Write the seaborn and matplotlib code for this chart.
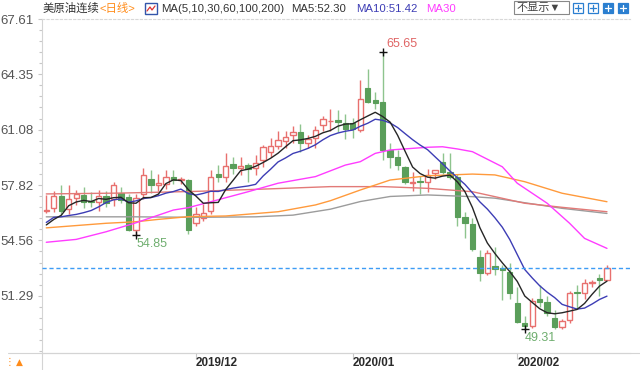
import numpy as np
import pandas as pd
import matplotlib
matplotlib.use("Agg")
import matplotlib.pyplot as plt
from matplotlib.patches import Rectangle
from matplotlib.lines import Line2D
import seaborn as sns

# ---------------- data ----------------
opens = [56.30, 56.45, 57.15, 56.40, 57.05, 57.25, 56.90, 56.80, 57.20, 57.00,
         57.35, 57.10, 55.20, 57.30, 58.20, 57.85, 57.90, 58.30, 58.10, 58.10,
         55.60, 55.90, 56.30, 58.50, 58.30, 59.05, 58.85, 59.00, 58.85, 59.30,
         59.80, 60.15, 60.40, 60.75, 60.97, 60.28, 60.58, 61.36, 61.58, 61.65,
         61.50, 61.50, 61.07, 63.56, 62.84, 62.74, 59.89, 59.49, 58.90, 57.93,
         58.05, 58.02, 58.52, 59.20, 58.61, 58.32, 55.96, 55.53, 53.56, 52.62,
         53.05, 52.95, 52.72, 50.85, 49.71, 49.50, 51.09, 50.95, 49.97, 49.47,
         49.87, 51.54, 51.45, 52.03, 52.33, 52.23]
highs = [57.25, 57.45, 57.80, 57.80, 57.55, 57.70, 57.40, 57.55, 57.50, 58.00,
         57.70, 57.30, 57.30, 58.80, 58.70, 58.50, 58.70, 58.70, 58.30, 58.20,
         56.50, 56.70, 58.70, 59.00, 59.70, 59.50, 59.50, 59.15, 59.60, 60.20,
         60.60, 61.00, 61.00, 61.30, 61.40, 60.75, 61.30, 61.90, 62.30, 62.25,
         62.00, 61.80, 64.00, 64.65, 63.30, 65.65, 60.30, 59.90, 58.95, 58.60,
         58.35, 58.75, 58.71, 59.70, 59.70, 58.50, 56.25, 55.90, 54.00, 54.00,
         54.20, 53.10, 53.20, 51.80, 50.10, 51.15, 51.93, 51.30, 50.45, 49.95,
         51.60, 51.95, 52.30, 52.25, 52.60, 53.11]
lows = [56.20, 56.25, 56.05, 56.10, 56.65, 56.45, 56.50, 56.30, 56.50, 56.60,
        56.75, 55.10, 54.85, 57.00, 57.35, 57.50, 57.60, 57.90, 57.90, 54.95,
        55.40, 55.70, 56.10, 58.00, 58.00, 58.50, 58.40, 58.00, 58.40, 58.90,
        59.50, 59.95, 60.00, 60.30, 59.80, 60.00, 60.00, 61.00, 61.00, 60.97,
        60.55, 60.60, 60.97, 62.65, 62.30, 59.30, 58.80, 58.70, 57.90, 57.50,
        57.30, 57.40, 58.20, 58.45, 58.20, 55.40, 54.70, 53.95, 52.15, 52.55,
        52.50, 51.05, 51.10, 49.70, 49.31, 49.40, 50.65, 50.10, 49.35, 49.35,
        49.70, 50.50, 51.10, 51.80, 51.30, 52.20]
closes = [56.38, 57.15, 56.30, 57.00, 57.30, 56.85, 56.80, 57.20, 56.75, 57.80,
          56.95, 55.20, 57.05, 58.40, 57.85, 57.95, 58.30, 58.15, 58.20, 55.15,
          56.10, 56.15, 58.30, 58.30, 58.95, 58.85, 58.95, 58.75, 59.15, 60.05,
          60.10, 60.45, 60.65, 60.95, 60.28, 60.52, 61.07, 61.70, 61.62, 61.55,
          61.15, 61.15, 62.88, 62.74, 62.64, 59.89, 59.49, 59.00, 58.02, 58.02,
          57.98, 58.42, 58.71, 58.61, 58.32, 55.96, 55.57, 54.04, 52.66, 53.80,
          52.90, 52.80, 51.45, 49.77, 49.50, 51.00, 50.95, 50.26, 49.47, 49.80,
          51.48, 51.45, 52.03, 52.13, 52.23, 52.95]
prior_closes = [54.16, 55.97, 56.23, 56.66, 55.81, 55.54, 55.06, 54.18, 56.20]

ma30_idx = [0, 4, 8, 12, 17, 19, 22, 27, 31, 36, 38, 40, 42, 44, 46, 51, 53, 55,
            57, 61, 63, 67, 70, 72, 75]
ma30_val = [54.45, 54.62, 55.07, 55.60, 56.35, 56.49, 56.84, 57.43, 57.93, 58.32,
            58.66, 59.00, 59.20, 59.69, 59.89, 60.05, 60.08, 59.95, 59.79, 58.90,
            57.93, 56.75, 55.57, 54.68, 54.09]
ma60_idx = [0, 8, 12, 15, 19, 24, 31, 36, 38, 42, 46, 51, 57, 60, 64, 69, 75]
ma60_val = [55.30, 55.57, 55.66, 55.80, 55.96, 56.00, 56.25, 56.65, 56.90, 57.53,
            58.12, 58.37, 58.47, 58.42, 58.02, 57.34, 56.84]
ma100_idx = [0, 10, 20, 30, 38, 45, 51, 57, 60, 64, 69, 75]
ma100_val = [57.30, 57.35, 57.45, 57.60, 57.73, 57.73, 57.63, 57.43, 57.14, 56.75,
             56.51, 56.25]
ma200_idx = [0, 12, 20, 28, 33, 38, 42, 46, 51, 57, 60, 64, 69, 75]
ma200_val = [55.95, 55.95, 55.92, 55.95, 56.05, 56.40, 56.85, 57.15, 57.24, 57.14,
             57.05, 56.78, 56.45, 56.15]

ytick_vals = [67.61, 64.35, 61.08, 57.82, 54.56, 51.29]
month_idx = [20, 41, 63]
month_labels = ["2019/12", "2020/01", "2020/02"]
last_price = 52.95
high_mark = (45, 65.65)
low_marks = [(12, 54.85), (64, 49.31)]

# ---------------- style ----------------
sns.set_theme(style="white")
plt.rcParams['font.family'] = ['Liberation Sans', 'Noto Sans CJK SC', 'DejaVu Sans']

RED = "#e8706e"
GREEN = "#5a9e5a"
GREEN_W = "#8ec48e"

W, H = 640, 370
fig = plt.figure(figsize=(6.4, 3.7), dpi=100)
fig.patch.set_facecolor("white")
ax = fig.add_axes([42 / W, (H - 353) / H, (630 - 42) / W, (353 - 19) / H])

o = np.array(opens); h = np.array(highs); l = np.array(lows); c = np.array(closes)
x = np.arange(len(c))
up = c >= o
bb = np.minimum(o, c)
bh = np.maximum(np.abs(c - o), 0.03)

ax.vlines(x[up], l[up], h[up], color=RED, lw=1, zorder=2)
ax.vlines(x[~up], l[~up], h[~up], color=GREEN_W, lw=1, zorder=2)
ax.bar(x[up], bh[up], bottom=bb[up], width=0.72, facecolor="white",
       edgecolor=RED, linewidth=1, zorder=3)
ax.bar(x[~up], bh[~up], bottom=bb[~up], width=0.72, facecolor=GREEN,
       edgecolor=GREEN, linewidth=0.8, zorder=3)

full = pd.Series(prior_closes + closes)
k = len(prior_closes)
ma5 = full.rolling(5).mean().iloc[k:].values
ma10 = full.rolling(10).mean().iloc[k:].values

lines = [
    (ma200_idx, ma200_val, "#9c9c9c"),
    (ma100_idx, ma100_val, "#e27a78"),
    (ma60_idx, ma60_val, "#ff9a3c"),
    (ma30_idx, ma30_val, "#ff3cff"),
    (list(x), list(ma10), "#3d3db5"),
    (list(x), list(ma5), "#262626"),
]
for xi, yi, col in lines:
    sns.lineplot(x=xi, y=yi, ax=ax, color=col, lw=1.0, legend=False,
                 zorder=4, estimator=None)

ax.axhline(last_price, color="#3d9cf5", lw=1, ls=(0, (3, 2)), zorder=5)

# high / low marks
ax.plot([high_mark[0]], [high_mark[1]], marker="+", color="#111", ms=6, mew=1, zorder=6)
ax.annotate(f"{high_mark[1]:.2f}", high_mark, xytext=(19, 8),
            textcoords="offset pixels", ha="center", va="center",
            color="#e06666", fontsize=9)
for (li, lv) in low_marks:
    ax.plot([li], [lv], marker="+", color="#111", ms=6, mew=1, zorder=6)
    ax.annotate(f"{lv:.2f}", (li, lv), xytext=(16, -9),
                textcoords="offset pixels", ha="center", va="center",
                color="#6fae6f", fontsize=9)

# axes ranges
ax.set_xlim(-0.575, 78.08)
ax.set_ylim(47.924, 67.61)

ax.set_yticks(ytick_vals)
ax.set_yticklabels([f"{v:.2f}" for v in ytick_vals])
step = (ytick_vals[0] - ytick_vals[1]) / 5
minors = [ytick_vals[-1] - step * j for j in range(1, 6)] + \
         [v - step * j for v in ytick_vals[:-1] for j in range(1, 5)]
ax.set_yticks([m for m in minors if m > 47.924], minor=True)
ax.tick_params(axis="y", which="major", length=3, width=0.8, color="#c8c8c8",
               labelsize=9.5, labelcolor="#555555", pad=3, left=True)
ax.tick_params(axis="y", which="minor", length=2, width=0.8, color="#c8c8c8", left=True)

ax.set_xticks(month_idx)
ax.set_xticklabels(month_labels)
ax.tick_params(axis="x", which="major", length=4, width=0.8, color="#c8c8c8",
               labelsize=8.4, labelcolor="#2a2a2a", pad=-1, bottom=True)
for lab in ax.get_xticklabels():
    lab.set_fontweight("bold")
    lab.set_horizontalalignment("left")

ax.spines["right"].set_visible(False)
ax.spines["left"].set_color("#d4d4d4")
ax.spines["bottom"].set_color("#d4d4d4")
ax.spines["top"].set_color("#d8d8d8")
ax.spines["top"].set_linestyle((0, (2, 2)))
for s in ["left", "bottom", "top"]:
    ax.spines[s].set_linewidth(0.8)
ax.grid(False)

# figure-level decorations (pixel helpers)
def fx(px):
    return px / W

def fy(py):
    return 1 - py / H

fig.add_artist(Line2D([fx(8), fx(640)], [fy(353), fy(353)], color="#d4d4d4", lw=0.8))
fig.add_artist(Line2D([fx(42), fx(42)], [fy(353), fy(370)], color="#d4d4d4", lw=0.8))

# header
hy = fy(8.5)
fig.text(fx(43), hy, "美原油连续", fontsize=8.2, color="#333333", va="center")
fig.text(fx(100), hy, "<日线>", fontsize=8.2, color="#ff8c1a", va="center")
fig.add_artist(Rectangle((fx(145), fy(14)), 12 / W, 11 / H, transform=fig.transFigure,
                         facecolor="white", edgecolor="#3355aa", lw=1))
fig.add_artist(Line2D([fx(147), fx(150), fx(152), fx(155)],
                      [fy(11), fy(7), fy(10), fy(6)], color="#dd3333", lw=0.9))
fig.text(fx(161), hy, "MA(5,10,30,60,100,200)", fontsize=8.2, color="#333333", va="center")
fig.text(fx(291), hy, "MA5:52.30", fontsize=8.2, color="#333333", va="center")
fig.text(fx(356), hy, "MA10:51.42", fontsize=8.2, color="#3d3db5", va="center")
fig.text(fx(426), hy, "MA30", fontsize=8.2, color="#ff3cff", va="center")

fig.add_artist(Rectangle((fx(514), fy(14)), 55 / W, 13 / H, transform=fig.transFigure,
                         facecolor="white", edgecolor="#888888", lw=0.8))
fig.text(fx(517), fy(7.5), "不显示▼", fontsize=8, color="#444444", va="center")
for k_i, x0 in enumerate([573, 588, 603, 618]):
    filled = k_i >= 2
    fig.add_artist(Rectangle((fx(x0), fy(13)), 10 / W, 10 / H, transform=fig.transFigure,
                             facecolor="#2b7fd0" if filled else "white",
                             edgecolor="#2b7fd0", lw=0.9))
    fig.add_artist(Line2D([fx(x0 + 5), fx(x0 + 5)], [fy(11), fy(5)],
                          color="white" if filled else "#2b7fd0", lw=0.9))
    fig.add_artist(Line2D([fx(x0 + 2), fx(x0 + 8)], [fy(8), fy(8)],
                          color="white" if filled else "#2b7fd0", lw=0.9))

# bottom-left icon
fig.text(fx(5), fy(362), "⋮", fontsize=7, color="#ff8c1a", va="center",
         family=["DejaVu Sans"])
fig.text(fx(16), fy(362), "▲", fontsize=6.5, color="#ff8c1a", va="center",
         family=["DejaVu Sans"])

fig.savefig("out.png", dpi=100, facecolor="white")
